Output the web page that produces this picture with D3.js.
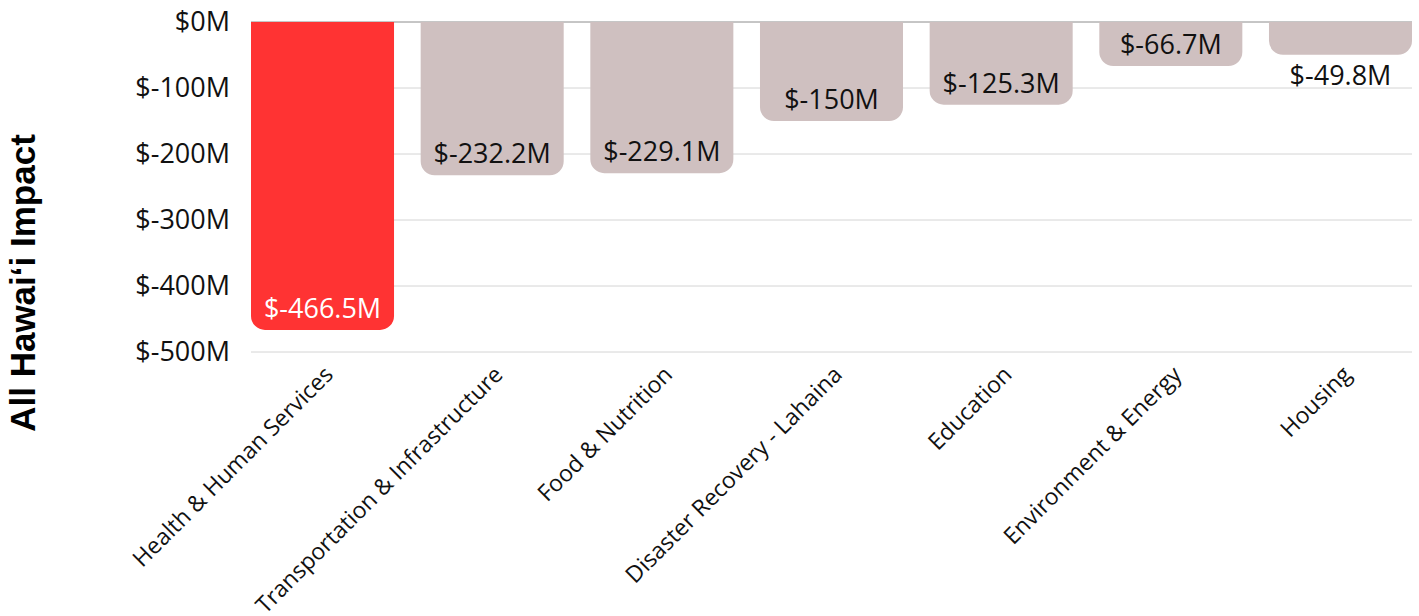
<!DOCTYPE html>
<html>
<head>
<meta charset="utf-8">
<script src="https://cdn.jsdelivr.net/npm/d3@7"></script>
<style>
  body { margin: 0; background: #fff; }
  svg { display: block; }
</style>
</head>
<body>
<div id="chart"></div>
<script>
const categories = [
  "Health & Human Services",
  "Transportation & Infrastructure",
  "Food & Nutrition",
  "Disaster Recovery - Lahaina",
  "Education",
  "Environment & Energy",
  "Housing"
];
const values = [-466.5, -232.2, -229.1, -150, -125.3, -66.7, -49.8];
const yTicks = [0, -100, -200, -300, -400, -500];
const highlight = "Health & Human Services";

const chartWidth = 1419;
const chartHeight = 616;
const plotLeft = 251, plotRight = 1412, plotTop = 22, plotBottom = 352;

const svg = d3.select("#chart").append("svg")
  .attr("width", chartWidth)
  .attr("height", chartHeight);

const x = d3.scaleBand()
  .domain(categories)
  .range([plotLeft, plotRight])
  .paddingInner(0.157)
  .paddingOuter(0);

const y = d3.scaleLinear()
  .domain([-500, 0])
  .range([plotBottom, plotTop]);

const fmt = (v) => "$" + v + "M";

// gridlines
svg.append("g")
  .selectAll("line")
  .data(yTicks)
  .join("line")
  .attr("x1", plotLeft)
  .attr("x2", plotRight)
  .attr("y1", (d) => y(d))
  .attr("y2", (d) => y(d))
  .attr("stroke", (d) => d === 0 ? "#8c8c8c" : "#d4d4d4")
  .attr("stroke-width", 1);

// y axis labels
const yAxis = svg.append("g")
  .attr("transform", `translate(${plotLeft - 21},0)`)
  .call(d3.axisLeft(y).tickValues(yTicks).tickSize(0).tickPadding(0).tickFormat(fmt));
yAxis.select(".domain").remove();
yAxis.selectAll("text")
  .attr("font-family", "'Open Sans', sans-serif")
  .attr("font-size", 27)
  .attr("fill", "#111");

// bars with rounded bottom corners
function barPath(d, i) {
  const x0 = x(categories[i]);
  const w = x.bandwidth();
  const y0 = y(0);
  const y1 = y(d);
  const r = Math.min(14, (y1 - y0) / 2);
  return `M${x0},${y0}H${x0 + w}V${y1 - r}` +
    `A${r},${r} 0 0 1 ${x0 + w - r},${y1}H${x0 + r}` +
    `A${r},${r} 0 0 1 ${x0},${y1 - r}Z`;
}

svg.append("g")
  .selectAll("path")
  .data(values)
  .join("path")
  .attr("d", barPath)
  .attr("fill", (d, i) => categories[i] === highlight ? "#ff3333" : "#cfc0c0");

// value labels
svg.append("g")
  .selectAll("text")
  .data(values)
  .join("text")
  .attr("x", (d, i) => x(categories[i]) + x.bandwidth() / 2)
  .attr("y", (d) => {
    const h = y(d) - y(0);
    return h < 40 ? y(d) + 30 : y(d) - 12;
  })
  .attr("text-anchor", "middle")
  .attr("font-family", "'Open Sans', sans-serif")
  .attr("font-size", 27)
  .attr("fill", (d, i) => categories[i] === highlight ? "#fff" : "#111")
  .text(fmt);

// category labels
svg.append("g")
  .selectAll("text")
  .data(categories)
  .join("text")
  .attr("transform", (d) => `translate(${x(d) + x.bandwidth() / 2 + 12},${plotBottom + 24}) rotate(-45)`)
  .attr("text-anchor", "end")
  .attr("font-family", "'Open Sans', sans-serif")
  .attr("font-size", 23)
  .attr("fill", "#111")
  .text((d) => d);

// axis title
svg.append("text")
  .attr("transform", `translate(35,283) rotate(-90)`)
  .attr("text-anchor", "middle")
  .attr("font-family", "'Liberation Sans', Arial, sans-serif")
  .attr("font-weight", "bold")
  .attr("font-size", 35)
  .attr("fill", "#000")
  .text("All Hawaiʻi Impact");
</script>
</body>
</html>
